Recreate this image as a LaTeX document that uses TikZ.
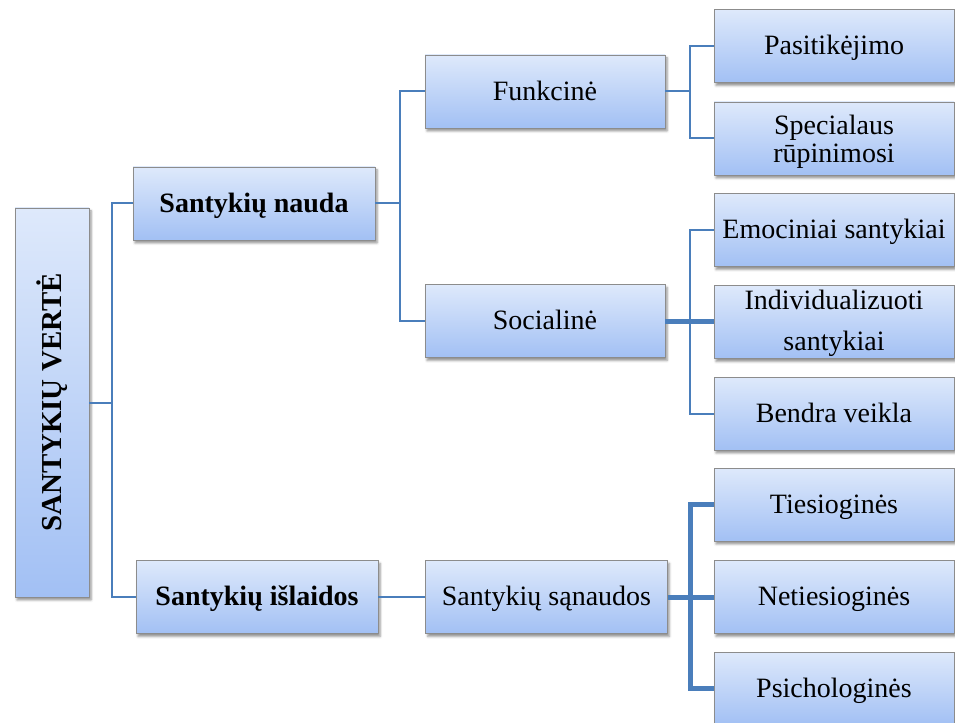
\documentclass[tikz,border=0pt]{standalone}
\usepackage{fontspec}
\setmainfont{Liberation Serif}
\usetikzlibrary{shadows.blur}
\definecolor{linec}{HTML}{4A7EBB}
\definecolor{boxtop}{HTML}{DEE9FB}
\definecolor{boxbot}{HTML}{A2C0F4}
\definecolor{boxedge}{HTML}{8C8C8C}
\begin{document}
\begin{tikzpicture}[x=0.75pt,y=0.75pt,
  boxbase/.style={draw=boxedge, line width=0.6pt, top color=boxtop, bottom color=boxbot,
    minimum width=180pt, minimum height=54.75pt, inner sep=0pt, align=center,
    font=\fontsize{21}{24}\selectfont,
    blur shadow={shadow xshift=1.5pt, shadow yshift=-2.2pt, shadow opacity=45, shadow blur steps=4}},
  box/.style={boxbase, text height=17.5pt, text depth=4.7pt},
  conn/.style={draw=linec, line width=1.5pt},
  connb/.style={draw=linec, line width=3.75pt}]
\useasboundingbox (0,0) rectangle (955,722);

% root
\node[boxbase, minimum width=55.5pt, minimum height=291.75pt, font=\fontsize{21.7}{24}\selectfont] (root) at (52,319.5)
  {\rotatebox{90}{\bfseries SANTYKIŲ VERTĖ}};

% level 1
\node[box, minimum width=181.5pt, font=\fontsize{21}{24}\selectfont\bfseries] (nauda) at (254,518.5) {Santykių nauda};
\node[box, minimum width=181.5pt, font=\fontsize{21}{24}\selectfont\bfseries] (islaidos) at (257,125) {Santykių išlaidos};

% level 2
\node[box] (funk) at (545,630.5) {Funkcinė};
\node[box] (soc) at (545,401) {Socialinė};
\node[box, minimum width=181pt] (san) at (546.5,125) {Santykių sąnaudos};

% level 3
\node[box] (pas) at (834,676) {Pasitikėjimo};
\node[boxbase, font=\fontsize{21}{21}\selectfont] (spec) at (834,583.5) {\rule{0pt}{20pt}Specialaus\\rūpinimosi};
\node[box] (emo) at (834,492) {Emociniai santykiai};
\node[boxbase, font=\fontsize{21}{30.5}\selectfont] (ind) at (834,400) {\rule{0pt}{17pt}Individualizuoti\\santykiai};
\node[box] (ben) at (834,308.5) {Bendra veikla};
\node[box] (ties) at (834,217.5) {Tiesioginės};
\node[box] (neties) at (834,125) {Netiesioginės};
\node[box] (psich) at (834,33.5) {Psichologinės};

% junctions
\coordinate (j0) at (112,321);
\coordinate (j1) at (400,518.5);
\coordinate (j2) at (690,630.5);
\coordinate (j3) at (690,401);
\coordinate (j4) at (690,125);

% connectors
\draw[conn] (root.east) -- (root.east -| j0);
\draw[conn] (nauda.west) -| (j0) |- (islaidos.west);
\draw[conn] (islaidos.east) -- (san.west);

\draw[conn] (nauda.east) -- (j1);
\draw[conn] (funk.west) -| (j1) |- (soc.west);

\draw[conn] (funk.east) -- (j2);
\draw[conn] (pas.west) -| (j2) |- (spec.west);

\draw[conn] (emo.west) -| (j3) |- (ben.west);
\draw[connb] (soc.east) -- (soc.east -| ind.west);

\draw[connb] (san.east) -- (neties.west);
\draw[connb] (ties.west) -| (j4) |- (psich.west);
\end{tikzpicture}
\end{document}
